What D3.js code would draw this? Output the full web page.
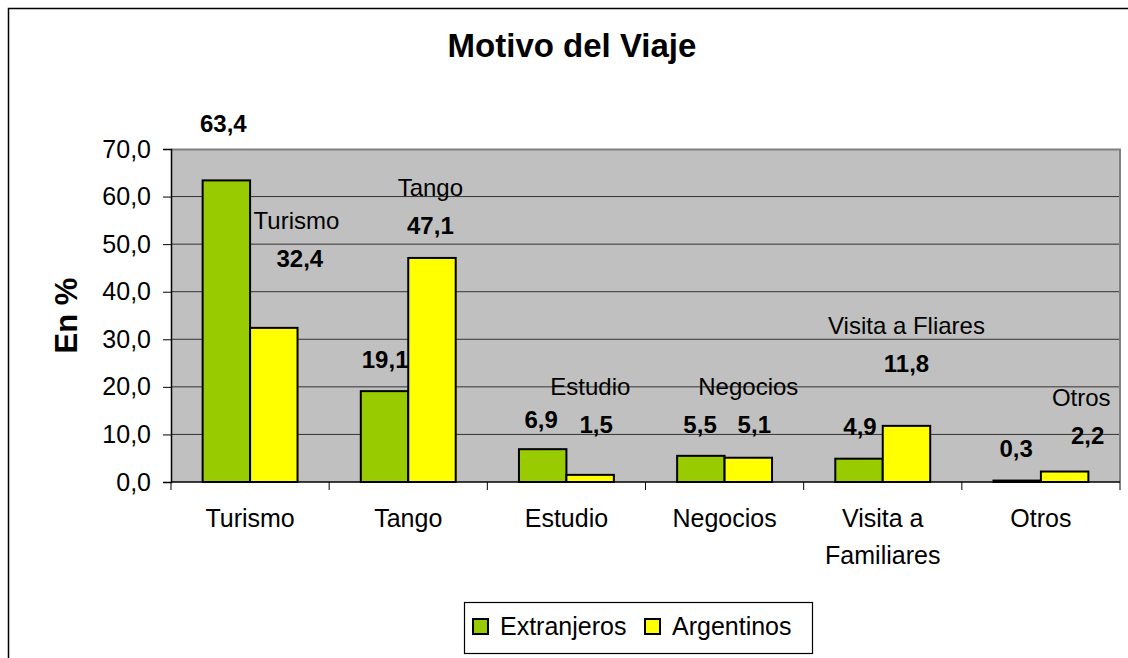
<!DOCTYPE html>
<html>
<head>
<meta charset="utf-8">
<script src="https://cdn.jsdelivr.net/npm/d3@7"></script>
<style>
  body { margin: 0; background: #fff; }
  svg { display: block; font-family: "Liberation Sans", Arial, sans-serif; }
</style>
</head>
<body>
<svg id="chart" width="1128" height="658"></svg>
<script>
// Data
const categories = ["Turismo", "Tango", "Estudio", "Negocios", "Visita a Familiares", "Otros"];
const categoryLines = [["Turismo"], ["Tango"], ["Estudio"], ["Negocios"], ["Visita a", "Familiares"], ["Otros"]];
const seriesNames = ["Extranjeros", "Argentinos"];
const extranjeros = [63.4, 19.1, 6.9, 5.5, 4.9, 0.3];
const argentinos = [32.4, 47.1, 1.5, 5.1, 11.8, 2.2];
const argentinosNames = ["Turismo", "Tango", "Estudio", "Negocios", "Visita a Fliares", "Otros"];
const yTicks = [0, 10, 20, 30, 40, 50, 60, 70];

// Label placement (dragged by hand in the original): [dx px from bar centre, baseline in axis units]
const extLabelPos = [[-3, 73.6], [0.6, 24.0], [-1.6, 11.35], [-0.8, 10.3], [1, 9.9], [-1, 5.25]];
const argLabelPos = [[26, 45.2], [-1.6, 52.1], [6, 10.3], [6, 10.3], [0, 23.1], [23, 8.0]];
const argNameDx = [22.6, -1.6, 0.2, 0, 0, 16.6];

const colors = ["#99CC00", "#FFFF00"];
const fmt = d3.formatLocale({decimal: ",", thousands: ".", grouping: [3], currency: ["", ""]}).format(".1f");

const svg = d3.select("#chart");
const plot = {left: 171, right: 1120, top: 149, bottom: 482};

// outer chart frame
svg.append("rect")
    .attr("x", 8.5).attr("y", 8.5)
    .attr("width", 1300).attr("height", 800)
    .attr("fill", "#fff").attr("stroke", "#000").attr("stroke-width", 1.5);

const x0 = d3.scaleBand()
    .domain(categories)
    .range([plot.left, plot.right])
    .paddingInner(0.4)
    .paddingOuter(0.2);
const x1 = d3.scaleBand()
    .domain(seriesNames)
    .range([0, x0.bandwidth()]);
const y = d3.scaleLinear()
    .domain([0, 70])
    .range([plot.bottom, plot.top]);

// plot area
svg.append("rect")
    .attr("x", plot.left).attr("y", plot.top)
    .attr("width", plot.right - plot.left).attr("height", plot.bottom - plot.top)
    .attr("fill", "#C0C0C0");

// grid lines
svg.append("g")
    .selectAll("line")
    .data(yTicks.filter(d => d > 0 && d < 70))
    .join("line")
    .attr("x1", plot.left).attr("x2", plot.right)
    .attr("y1", d => y(d)).attr("y2", d => y(d))
    .attr("stroke", "#333").attr("stroke-width", 1);

// plot border top / right
svg.append("path")
    .attr("d", `M${plot.left},${plot.top + 0.5}H${plot.right}V${plot.bottom}`)
    .attr("fill", "none").attr("stroke", "#808080").attr("stroke-width", 2);

// Extranjeros value labels (drawn under the bars, like the clipped 19,1)
const bandStart = c => x0(c);
svg.append("g")
    .selectAll("text")
    .data(extranjeros)
    .join("text")
    .attr("x", (d, i) => bandStart(categories[i]) + x1("Extranjeros") + x1.bandwidth() / 2 + extLabelPos[i][0])
    .attr("y", (d, i) => y(extLabelPos[i][1]))
    .attr("text-anchor", "middle")
    .attr("font-size", 24).attr("font-weight", "bold")
    .text(d => fmt(d));

// Argentinos labels: name + value
const argG = svg.append("g");
argG.selectAll("text.val")
    .data(argentinos)
    .join("text")
    .attr("class", "val")
    .attr("x", (d, i) => bandStart(categories[i]) + x1("Argentinos") + x1.bandwidth() / 2 + argLabelPos[i][0])
    .attr("y", (d, i) => y(argLabelPos[i][1]))
    .attr("text-anchor", "middle")
    .attr("font-size", 24).attr("font-weight", "bold")
    .text(d => fmt(d));
argG.selectAll("text.name")
    .data(argentinosNames)
    .join("text")
    .attr("class", "name")
    .attr("x", (d, i) => bandStart(categories[i]) + x1("Argentinos") + x1.bandwidth() / 2 + argNameDx[i])
    .attr("y", (d, i) => y(argLabelPos[i][1]) - 38)
    .attr("text-anchor", "middle")
    .attr("font-size", 24)
    .text(d => d);

// bars
const rows = categories.map((c, i) => ({cat: c, vals: [extranjeros[i], argentinos[i]]}));
svg.append("g")
    .selectAll("g")
    .data(rows)
    .join("g")
    .attr("transform", d => `translate(${x0(d.cat)},0)`)
    .selectAll("rect")
    .data(d => d.vals.map((v, j) => ({key: seriesNames[j], v: v, j: j})))
    .join("rect")
    .attr("x", d => x1(d.key))
    .attr("y", d => y(d.v))
    .attr("width", x1.bandwidth())
    .attr("height", d => y(0) - y(d.v))
    .attr("fill", d => colors[d.j])
    .attr("stroke", "#000").attr("stroke-width", 2);

// y axis
const yAxis = svg.append("g")
    .attr("transform", `translate(${plot.left},0)`)
    .call(d3.axisLeft(y).tickValues(yTicks).tickSize(8).tickPadding(12).tickFormat(fmt));
yAxis.select(".domain").attr("stroke", "#000").attr("stroke-width", 1.5);
yAxis.selectAll(".tick line").attr("stroke", "#000");
yAxis.selectAll(".tick text")
    .attr("font-family", "Liberation Sans, Arial, sans-serif")
    .attr("font-size", 25).attr("fill", "#000");

// x axis baseline and category dividers
const xg = svg.append("g");
xg.append("line")
    .attr("x1", plot.left).attr("x2", plot.right)
    .attr("y1", y(0)).attr("y2", y(0))
    .attr("stroke", "#000").attr("stroke-width", 1.5);
xg.selectAll("line.tick")
    .data(d3.range(categories.length + 1))
    .join("line")
    .attr("class", "tick")
    .attr("x1", i => plot.left + i * x0.step())
    .attr("x2", i => plot.left + i * x0.step())
    .attr("y1", y(0)).attr("y2", y(0) + 8)
    .attr("stroke", "#000");
xg.selectAll("text")
    .data(categories)
    .join("text")
    .attr("x", d => x0(d) + x0.bandwidth() / 2)
    .attr("y", 527)
    .attr("text-anchor", "middle")
    .attr("font-size", 25)
    .each(function(d, i) {
        d3.select(this).selectAll("tspan")
            .data(categoryLines[i])
            .join("tspan")
            .attr("x", x0(d) + x0.bandwidth() / 2)
            .attr("dy", (t, k) => k === 0 ? 0 : 37)
            .text(t => t);
    });

// y axis title
svg.append("text")
    .attr("transform", `translate(77,${(plot.top + plot.bottom) / 2}) rotate(-90)`)
    .attr("text-anchor", "middle")
    .attr("font-size", 31).attr("font-weight", "bold")
    .text("En %");

// title
svg.append("text")
    .attr("x", 572).attr("y", 57)
    .attr("text-anchor", "middle")
    .attr("font-size", 33).attr("font-weight", "bold")
    .text("Motivo del Viaje");

// legend
const legend = svg.append("g").attr("transform", "translate(464,602)");
legend.append("rect")
    .attr("x", 0.5).attr("y", 0.5).attr("width", 348).attr("height", 51)
    .attr("fill", "#fff").attr("stroke", "#000").attr("stroke-width", 1.2);
const legendX = [9, 181];
const items = legend.selectAll("g.item")
    .data(seriesNames)
    .join("g")
    .attr("class", "item")
    .attr("transform", (d, i) => `translate(${legendX[i]},0)`);
items.append("rect")
    .attr("x", 0).attr("y", 17).attr("width", 15).attr("height", 15)
    .attr("fill", (d, i) => colors[i]).attr("stroke", "#000").attr("stroke-width", 2);
items.append("text")
    .attr("x", 27).attr("y", 33)
    .attr("font-size", 25)
    .text(d => d);
</script>
</body>
</html>
